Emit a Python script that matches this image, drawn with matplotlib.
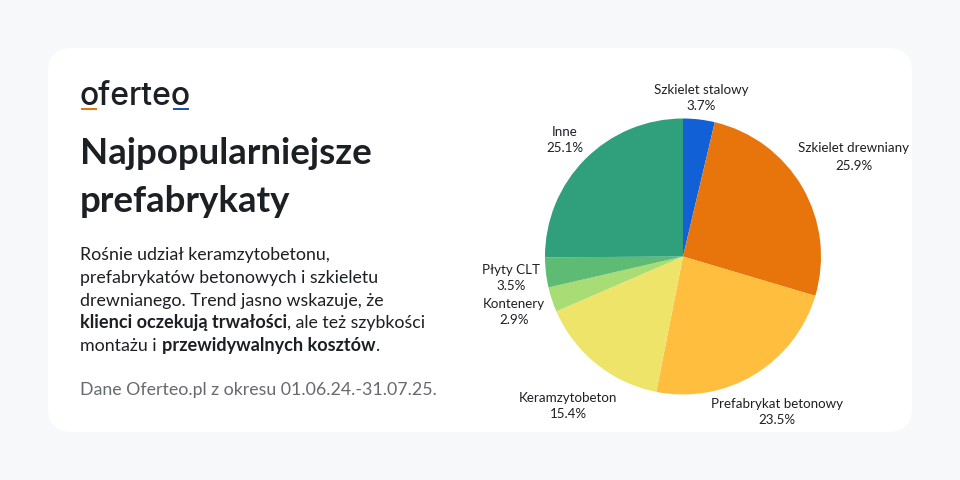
#!/usr/bin/env python3

import matplotlib
matplotlib.use("Agg")
import matplotlib.pyplot as plt
from matplotlib.patches import FancyBboxPatch, Rectangle

# dane z wykresu
categories = ["Szkielet stalowy", "Szkielet drewniany", "Prefabrykat betonowy",
              "Keramzytobeton", "Kontenery", "Płyty CLT", "Inne"]
shares = [3.7, 25.9, 23.5, 15.4, 2.9, 3.5, 25.1]
colors = ["#1260D6", "#E8750C", "#FFBE3D", "#EFE46A", "#A8DC74", "#5DBB74", "#2FA07B"]

# srodek etykiety w pikselach
label_pos = [(701, 98), (854, 157), (777, 412), (568, 406), (514, 312), (511, 278), (565, 140)]

plt.rcParams["font.family"] = ["Lato", "DejaVu Sans"]

INK = "#1C1F24"
GREY = "#66696E"

fig = plt.figure(figsize=(9.6, 4.8), dpi=100, facecolor="#F7F8FA")

# tlo w pikselach
bg = fig.add_axes([0, 0, 1, 1])
bg.set_xlim(0, 960)
bg.set_ylim(480, 0)
bg.axis("off")

bg.add_patch(FancyBboxPatch((48 + 24, 48 + 24), 864 - 48, 384 - 48,
                            boxstyle="round,pad=24,rounding_size=24",
                            fc="white", ec="none"))

# logo
bg.text(79.5, 105, "oferteo", fontsize=23, fontweight="medium", color=INK,
        va="baseline", family="Inter")
bg.add_patch(Rectangle((81, 107.5), 16, 2, fc="#E8750C", ec="none"))
bg.add_patch(Rectangle((173, 107.5), 16, 2, fc="#1F4FB5", ec="none"))

# tytul
bg.text(80, 164, "Najpopularniejsze", fontsize=26.4, fontweight="bold", color=INK, va="baseline")
bg.text(80, 212, "prefabrykaty", fontsize=26.4, fontweight="bold", color=INK, va="baseline")


def draw_runs(x, y, runs, size=12.8):
    renderer = fig.canvas.get_renderer()
    for txt, weight, gap in runs:
        s = size * 1.02 if weight == "bold" else size
        t = bg.text(x, y, txt, fontsize=s, fontweight=weight, color=INK, va="baseline")
        x += t.get_window_extent(renderer).width + gap


body = [
    [("Rośnie udział keramzytobetonu,", "normal", 0)],
    [("prefabrykatów betonowych i szkieletu", "normal", 0)],
    [("drewnianego. Trend jasno wskazuje, że", "normal", 0)],
    [("klienci oczekują trwałości", "bold", 0), (", ale też szybkości", "normal", 0)],
    [("montażu i", "normal", 5), ("przewidywalnych kosztów", "bold", 0), (".", "normal", 0)],
]
for i, runs in enumerate(body):
    draw_runs(80, 260 + i * 22.8, runs)

bg.text(80, 395.5, "Dane Oferteo.pl z okresu 01.06.24.-31.07.25.", fontsize=12.75,
        color=GREY, va="baseline")

# kolowy
cx, cy, r = 683, 256.5, 138
ax = fig.add_axes([(cx - r) / 960, 1 - (cy + r) / 480, 2 * r / 960, 2 * r / 480])
ax.pie(shares, colors=colors, startangle=90, counterclock=False, radius=1,
       wedgeprops={"linewidth": 0})
ax.set_xlim(-1, 1)
ax.set_ylim(-1, 1)

for name, val, (x, y) in zip(categories, shares, label_pos):
    bg.text(x, y, f"{name}\n{val}%", fontsize=9.6, color=INK, ha="center", va="center",
            linespacing=1.5, zorder=5)

plt.savefig("out.png", dpi=100)
